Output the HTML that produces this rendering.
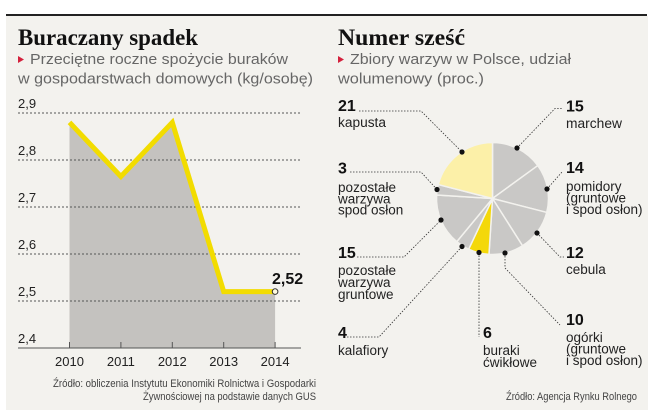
<!DOCTYPE html>
<html><head><meta charset="utf-8"><style>
html,body{margin:0;padding:0;background:#fff;}
body{width:672px;height:419px;overflow:hidden;position:relative;}
svg{position:absolute;left:0;top:0;}
.t{font-family:"Liberation Serif",serif;font-weight:bold;font-size:23px;fill:#111;}
.s{font-family:"Liberation Sans",sans-serif;font-size:15px;fill:#666;}
.ax{font-family:"Liberation Sans",sans-serif;font-size:13px;fill:#222;}
.n{font-family:"Liberation Sans",sans-serif;font-size:16px;font-weight:bold;fill:#111;}
.l{font-family:"Liberation Sans",sans-serif;font-size:13.5px;fill:#222;}
.src{font-family:"Liberation Sans",sans-serif;font-size:11px;fill:#444;}
.ld{fill:none;stroke:#333;stroke-width:0.8;stroke-dasharray:1.5 1.5;}
</style></head><body>
<svg width="672" height="419" viewBox="0 0 672 419" xmlns="http://www.w3.org/2000/svg">
<rect x="6" y="16" width="642" height="394" fill="#f3f2ee"/>
<rect x="6" y="14" width="641" height="2" fill="#222"/>

<!-- Left chart -->
<text class="t" x="18" y="45" textLength="180" lengthAdjust="spacingAndGlyphs">Buraczany spadek</text>
<polygon points="18,56 24,59.5 18,63" fill="#d4213d"/>
<text class="s" x="30" y="64" textLength="258" lengthAdjust="spacingAndGlyphs">Przeciętne roczne spożycie buraków</text>
<text class="s" x="18" y="83.5" textLength="295" lengthAdjust="spacingAndGlyphs">w gospodarstwach domowych (kg/osobę)</text>

<polygon points="69.5,348 69.5,122.4 120.9,176.5 172.3,122.4 223.7,291.6 275.1,291.6 275.1,348" fill="#c4c2bf"/>
<g stroke="#555" stroke-width="1" stroke-dasharray="2 2">
<line x1="18" y1="113" x2="301" y2="113"/>
<line x1="18" y1="160" x2="301" y2="160"/>
<line x1="18" y1="207" x2="301" y2="207"/>
<line x1="18" y1="254" x2="301" y2="254"/>
<line x1="18" y1="301" x2="301" y2="301"/>
</g>
<line x1="18" y1="348" x2="301" y2="348" stroke="#555" stroke-width="1"/>
<g stroke="#555" stroke-width="1">
<line x1="69.5" y1="342" x2="69.5" y2="348"/>
<line x1="120.9" y1="342" x2="120.9" y2="348"/>
<line x1="172.3" y1="342" x2="172.3" y2="348"/>
<line x1="223.7" y1="342" x2="223.7" y2="348"/>
<line x1="275.1" y1="342" x2="275.1" y2="348"/>
</g>
<text class="ax" x="18" y="108">2,9</text>
<text class="ax" x="18" y="155">2,8</text>
<text class="ax" x="18" y="202">2,7</text>
<text class="ax" x="18" y="249">2,6</text>
<text class="ax" x="18" y="296">2,5</text>
<text class="ax" x="18" y="343">2,4</text>
<g class="ax" text-anchor="middle">
<text x="69.5" y="366">2010</text>
<text x="120.9" y="366">2011</text>
<text x="172.3" y="366">2012</text>
<text x="223.7" y="366">2013</text>
<text x="275.1" y="366">2014</text>
</g>
<polyline points="69.5,122.4 120.9,176.5 172.3,122.4 223.7,291.6 275.1,291.6" fill="none" stroke="#f2dc00" stroke-width="5" stroke-linejoin="miter"/>
<circle cx="275.1" cy="291.6" r="2.8" fill="#fffbe0" stroke="#333" stroke-width="1"/>
<text class="n" x="272" y="284">2,52</text>
<text class="src" x="316" y="387" text-anchor="end" textLength="263" lengthAdjust="spacingAndGlyphs">Źródło: obliczenia Instytutu Ekonomiki Rolnictwa i Gospodarki</text>
<text class="src" x="316" y="400" text-anchor="end" textLength="173" lengthAdjust="spacingAndGlyphs">Żywnościowej na podstawie danych GUS</text>

<!-- Right chart -->
<text class="t" x="338" y="45" textLength="127" lengthAdjust="spacingAndGlyphs">Numer sześć</text>
<polygon points="338,56 344,59.5 338,63" fill="#d4213d"/>
<text class="s" x="350" y="64" textLength="221" lengthAdjust="spacingAndGlyphs">Zbiory warzyw w Polsce, udział</text>
<text class="s" x="338" y="83.5" textLength="146" lengthAdjust="spacingAndGlyphs">wolumenowy (proc.)</text>

<g stroke="#f3f2ee" stroke-width="1.5" stroke-linejoin="round">
<path d="M492.5,198.5 L492.5,142.5 A56,56 0 0 1 537.80,165.58 Z" fill="#c9c8c6"/>
<path d="M492.5,198.5 L537.80,165.58 A56,56 0 0 1 546.74,212.43 Z" fill="#c9c8c6"/>
<path d="M492.5,198.5 L546.74,212.43 A56,56 0 0 1 522.51,245.78 Z" fill="#c9c8c6"/>
<path d="M492.5,198.5 L522.51,245.78 A56,56 0 0 1 488.98,254.39 Z" fill="#c9c8c6"/>
<path d="M492.5,198.5 L488.98,254.39 A56,56 0 0 1 468.66,249.17 Z" fill="#f4d80a"/>
<path d="M492.5,198.5 L468.66,249.17 A56,56 0 0 1 456.81,241.65 Z" fill="#c9c8c6"/>
<path d="M492.5,198.5 L456.81,241.65 A56,56 0 0 1 436.61,194.98 Z" fill="#c9c8c6"/>
<path d="M492.5,198.5 L436.61,194.98 A56,56 0 0 1 438.26,184.57 Z" fill="#c9c8c6"/>
<path d="M492.5,198.5 L438.26,184.57 A56,56 0 0 1 492.5,142.5 Z" fill="#fcf0a8"/>
</g>

<!-- leader lines -->
<polyline class="ld" points="359,111 421,111 462,152"/>
<polyline class="ld" points="350,172 421,172 437,189.5"/>
<polyline class="ld" points="357,257 404,257 441,220"/>
<polyline class="ld" points="347,337 379,337 462,246.5"/>
<polyline class="ld" points="479,252.5 479,337"/>
<polyline class="ld" points="505,253 505,268 560,325"/>
<polyline class="ld" points="537,233 560,257 564,257"/>
<polyline class="ld" points="517,148 555,108.5 563,108.5"/>
<polyline class="ld" points="547,189 562,172"/>

<g fill="#111">
<circle cx="517" cy="148" r="2.6"/>
<circle cx="547" cy="189" r="2.6"/>
<circle cx="537" cy="233" r="2.6"/>
<circle cx="505" cy="253" r="2.6"/>
<circle cx="479" cy="252.5" r="2.6"/>
<circle cx="462" cy="246.5" r="2.6"/>
<circle cx="441" cy="220" r="2.6"/>
<circle cx="437" cy="189.5" r="2.6"/>
<circle cx="462" cy="152" r="2.6"/>
</g>

<!-- left labels -->
<text class="n" x="338" y="111">21</text>
<text class="l" x="338" y="127" textLength="48" lengthAdjust="spacingAndGlyphs">kapusta</text>
<text class="n" x="338" y="173.5">3</text>
<text class="l" x="338" y="192" textLength="58" lengthAdjust="spacingAndGlyphs">pozostałe</text>
<text class="l" x="338" y="203.3">warzywa</text>
<text class="l" x="338" y="214.5">spod osłon</text>
<text class="n" x="338" y="258">15</text>
<text class="l" x="338" y="275" textLength="58" lengthAdjust="spacingAndGlyphs">pozostałe</text>
<text class="l" x="338" y="287">warzywa</text>
<text class="l" x="338" y="299">gruntowe</text>
<text class="n" x="338" y="338">4</text>
<text class="l" x="338" y="355">kalafiory</text>
<text class="n" x="483" y="338">6</text>
<text class="l" x="483" y="355">buraki</text>
<text class="l" x="483" y="367">ćwikłowe</text>

<!-- right labels -->
<text class="n" x="566" y="111.5">15</text>
<text class="l" x="566" y="128" textLength="56" lengthAdjust="spacingAndGlyphs">marchew</text>
<text class="n" x="566" y="173">14</text>
<text class="l" x="566" y="191">pomidory</text>
<text class="l" x="566" y="202.5">(gruntowe</text>
<text class="l" x="566" y="214">i spod osłon)</text>
<text class="n" x="566" y="258">12</text>
<text class="l" x="566" y="274">cebula</text>
<text class="n" x="566" y="325">10</text>
<text class="l" x="566" y="342">ogórki</text>
<text class="l" x="566" y="353.5">(gruntowe</text>
<text class="l" x="566" y="365">i spod osłon)</text>

<text class="src" x="637" y="400" text-anchor="end" textLength="131" lengthAdjust="spacingAndGlyphs">Źródło: Agencja Rynku Rolnego</text>
</svg>
</body></html>
